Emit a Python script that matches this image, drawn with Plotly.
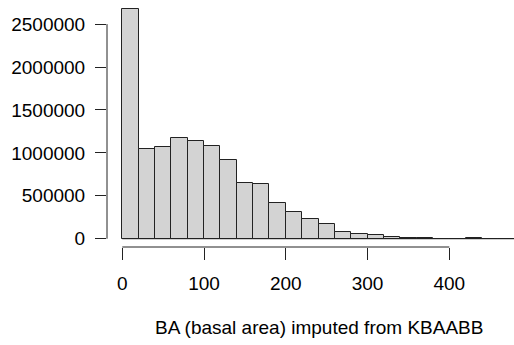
import plotly.graph_objects as go

bin_edges = list(range(0, 500, 20))  # 0..480
counts = [2680000, 1048000, 1064000, 1176000, 1141000, 1076000, 916000, 652000,
          637000, 419000, 314000, 226000, 171000, 77000, 50000, 39000, 23000,
          12000, 10000, 0, 0, 3000, 0, 0]
x_ticks = [0, 100, 200, 300, 400]
y_ticks = [0, 500000, 1000000, 1500000, 2000000, 2500000]
x_title = "BA (basal area) imputed from KBAABB"

centers = [(a + b) / 2 for a, b in zip(bin_edges[:-1], bin_edges[1:])]
widths = [b - a for a, b in zip(bin_edges[:-1], bin_edges[1:])]

FONT = dict(family="Liberation Sans, Arial, sans-serif", size=19, color="black")

fig = go.Figure()
fig.add_trace(go.Bar(
    x=centers, y=counts, width=widths,
    marker=dict(color="#d3d3d3", line=dict(color="#222222", width=1)),
    hoverinfo="skip",
))

fig.update_layout(
    width=514, height=345,
    margin=dict(l=107, r=0, t=0, b=98),
    plot_bgcolor="white", paper_bgcolor="white",
    showlegend=False,
    font=FONT,
    bargap=0,
)
fig.update_xaxes(
    range=[-18.7, 479.1], showgrid=False, zeroline=False, showline=False,
    tickmode="array", tickvals=x_ticks, ticktext=[str(v) for v in x_ticks],
    ticks="outside", ticklen=12, tickwidth=1, tickcolor="#222222",
    ticklabelstandoff=7, tickfont=FONT,
)
fig.update_yaxes(
    range=[-96500, 2781000], showgrid=False, zeroline=False, showline=False,
    tickmode="array", tickvals=y_ticks, ticktext=[str(v) for v in y_ticks],
    ticks="outside", ticklen=11, tickwidth=1, tickcolor="#222222",
    ticklabelstandoff=6, tickfont=FONT,
)
# baseline for empty bins (R draws zero-height rects as lines)
fig.add_shape(type="line", xref="x", yref="y", x0=bin_edges[0], x1=bin_edges[-1],
              y0=0, y1=0, line=dict(color="#222222", width=1))
# y axis line (spans first to last tick)
fig.add_shape(type="line", xref="paper", yref="y", x0=0, x1=0,
              y0=y_ticks[0], y1=y_ticks[-1], line=dict(color="#222222", width=1))
# x axis line (spans first to last tick)
fig.add_shape(type="line", xref="x", yref="paper", x0=x_ticks[0], x1=x_ticks[-1],
              y0=0, y1=0, line=dict(color="#222222", width=1))
fig.add_annotation(text=x_title, xref="x", yref="paper", x=240, y=0,
                   yshift=-80, showarrow=False, font=FONT, yanchor="middle")

fig.write_html("out.html")
